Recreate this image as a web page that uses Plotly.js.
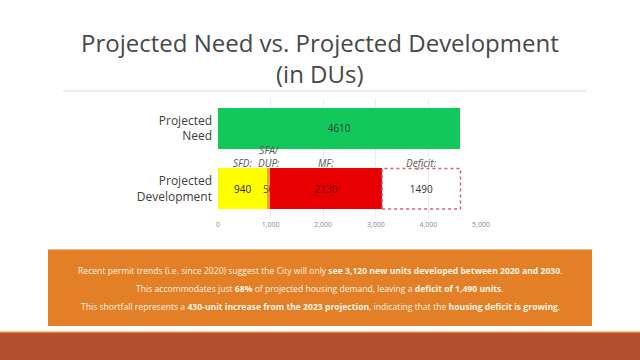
<!DOCTYPE html>
<html>
<head>
<meta charset="utf-8">
<script src="https://cdn.plot.ly/plotly-3.0.1.min.js"></script>
<style>html,body{margin:0;padding:0;background:#fff;}#chart{width:640px;height:360px;}</style>
</head>
<body>
<div id="chart"></div>
<script>
// ---- data ----
const categories = ['Projected Development', 'Projected Need'];
const categoryLabels = ['Projected<br>Development', 'Projected<br>Need'];
const needValues = [4610];
const segmentNames = ['SFD:', 'SFA/<br>DUP:', 'MF:', 'Deficit:'];
const segmentValues = [940, 50, 2130, 1490];
const xTickValues = [0, 1000, 2000, 3000, 4000, 5000];
const titleLines = ['Projected Need vs. Projected Development', '(in DUs)'];
const noteLines = [
  'Recent permit trends (i.e. since 2020) suggest the City will only <b>see 3,120 new units developed between 2020 and 2030</b>.',
  'This accommodates just <b>68%</b> of projected housing demand, leaving a <b>deficit of 1,490 units</b>.',
  'This shortfall represents a <b>430-unit increase from the 2023 projection</b>, indicating that the <b>housing deficit is growing</b>.'
];

// ---- styles ----
const segmentColors = ['#FFFF00', '#F2A22E', '#E80000', 'rgba(255,255,255,0)'];
const segmentTextColors = ['#262626', '#5a4a00', '#6a0a0a', '#333333'];
const FONT = 'Open Sans, DejaVu Sans, sans-serif';

// pixel -> paper helpers (plot area: x 218..481, y 98..219)
const L = 218, R = 481, T = 98, B = 219;
const px = p => (p - L) / (R - L);
const py = p => (B - p) / (B - T);

const traces = [];
traces.push({
  type: 'bar', orientation: 'h',
  y: [categories[1]], x: needValues,
  marker: {color: '#12C85A'},
  text: needValues.map(String), textposition: 'inside', insidetextanchor: 'middle',
  constraintext: 'none',
  textfont: {family: FONT, size: 10, color: '#2f3f33'},
  hoverinfo: 'none', showlegend: false
});
segmentValues.forEach((v, i) => {
  traces.push({
    type: 'bar', orientation: 'h',
    y: [categories[0]], x: [v],
    marker: {color: segmentColors[i], line: {width: 0}},
    text: [String(v)], textposition: 'inside', insidetextanchor: 'middle',
    constraintext: 'none',
    textfont: {family: FONT, size: 10, color: segmentTextColors[i]},
    hoverinfo: 'none', showlegend: false
  });
});

// cumulative positions for labels / deficit outline
const starts = [];
let acc = 0;
segmentValues.forEach(v => { starts.push(acc); acc += v; });

const halfBar = 0.335;
const annotations = [];
segmentNames.forEach((n, i) => {
  annotations.push({
    x: starts[i] + segmentValues[i] / 2, y: halfBar, xref: 'x', yref: 'y',
    text: '<i>' + n + '</i>', showarrow: false, yanchor: 'bottom', yshift: -4,
    font: {family: FONT, size: 10, color: '#595959'}
  });
});
annotations.push({x: px(320), y: py(43), xref: 'paper', yref: 'paper', text: titleLines[0], showarrow: false,
  xanchor: 'center', yanchor: 'middle', font: {family: FONT, size: 24, color: '#484848'}});
annotations.push({x: px(320), y: py(73), xref: 'paper', yref: 'paper', text: titleLines[1], showarrow: false,
  xanchor: 'center', yanchor: 'middle', font: {family: FONT, size: 24, color: '#484848'}});
const noteY = [271, 289, 307];
noteLines.forEach((t, i) => {
  annotations.push({x: px(320), y: py(noteY[i]), xref: 'paper', yref: 'paper', text: t, showarrow: false,
    xanchor: 'center', yanchor: 'middle', font: {family: FONT, size: 8.6, color: '#FFF3E2'}});
});

const deficitStart = starts[3], deficitEnd = starts[3] + segmentValues[3];
const shapes = [
  {type: 'line', xref: 'paper', yref: 'paper', x0: px(63), x1: px(586), y0: py(91), y1: py(91),
   line: {color: '#D9D9D9', width: 1.2}},
  {type: 'rect', xref: 'paper', yref: 'paper', x0: px(48), x1: px(592), y0: py(326), y1: py(249.5),
   fillcolor: '#E27F27', line: {width: 0}, layer: 'below'},
  {type: 'rect', xref: 'paper', yref: 'paper', x0: px(0), x1: px(640), y0: py(333), y1: py(331.5),
   fillcolor: '#E5892E', line: {width: 0}, layer: 'below'},
  {type: 'rect', xref: 'paper', yref: 'paper', x0: px(0), x1: px(640), y0: py(360), y1: py(333),
   fillcolor: '#B5502F', line: {width: 0}, layer: 'below'},
  {type: 'rect', xref: 'x', yref: 'y', x0: deficitStart, x1: deficitEnd, y0: -halfBar, y1: halfBar,
   line: {color: '#D26272', width: 1.5, dash: 'dot'}, fillcolor: 'rgba(0,0,0,0)'}
];

const layout = {
  width: 640, height: 360,
  margin: {l: L, r: 640 - R, t: T, b: 360 - B, pad: 0},
  paper_bgcolor: '#ffffff', plot_bgcolor: '#ffffff',
  barmode: 'stack', bargap: 0.33,
  showlegend: false,
  xaxis: {range: [0, 5000], tickvals: xTickValues, tickformat: ',', showgrid: true, gridcolor: '#EDEDED',
    zeroline: false, showline: false, ticks: '', fixedrange: true,
    tickfont: {family: FONT, size: 7, color: '#8A8A8A'}},
  yaxis: {type: 'category', categoryorder: 'array', categoryarray: categories,
    tickvals: categories, ticktext: categoryLabels, range: [-0.5, 1.5],
    showgrid: false, zeroline: false, showline: false, ticks: '', ticklabelstandoff: 5,
    tickfont: {family: FONT, size: 12, color: '#404040'}},
  annotations: annotations,
  shapes: shapes,
  font: {family: FONT}
};

Plotly.newPlot('chart', traces, layout, {displayModeBar: false, staticPlot: true});
</script>
</body>
</html>
